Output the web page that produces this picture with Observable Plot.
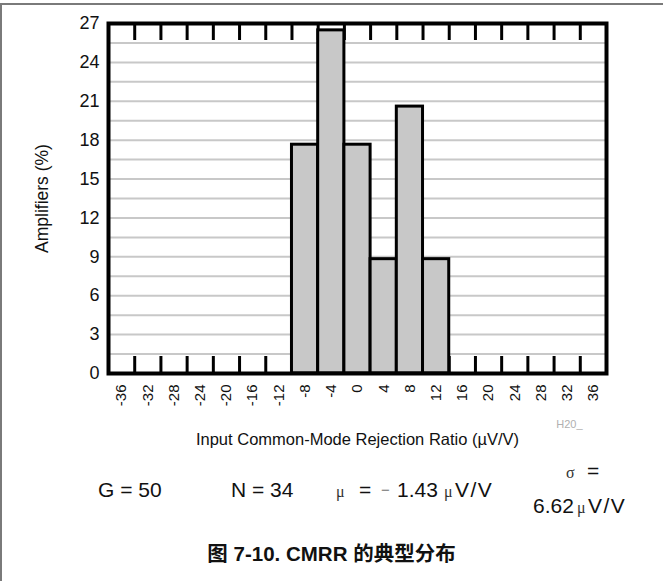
<!DOCTYPE html>
<html><head><meta charset="utf-8">
<script src="https://cdn.jsdelivr.net/npm/d3@7"></script>
<script src="https://cdn.jsdelivr.net/npm/@observablehq/plot@0.6"></script>
<style>
html,body{margin:0;padding:0;background:#fff;}
#wrap{position:relative;width:663px;height:581px;overflow:hidden;font-family:"Liberation Sans",Arial,sans-serif;color:#111;}
#chart{position:absolute;left:0;top:0;}
.bt{position:absolute;left:0;top:3px;width:663px;height:2px;background:#7a7a7a;}
.bl{position:absolute;left:0;top:3px;width:2px;height:578px;background:#7a7a7a;}
.s{position:absolute;font-size:21px;line-height:20px;white-space:nowrap;}
.mu{font-family:"Liberation Serif","Times New Roman",serif;font-size:16px;color:#333;}
.minus{font-size:15px;color:#777;}
.vv{letter-spacing:1.5px;}
#cap{position:absolute;left:0;width:663px;top:540px;line-height:24px;text-align:center;font-family:"Liberation Sans",sans-serif;font-weight:bold;font-size:20.5px;}
#cap span.cjk{font-family:"Noto Sans CJK SC",sans-serif;}
</style></head><body>
<div id="wrap">
<div id="chart"></div>
<div class="bt"></div><div class="bl"></div>
<div class="s" id="sG" style="left:98px;top:480px"></div>
<div class="s" id="sN" style="left:231px;top:480px"></div>
<div class="s mu" id="sMu1" style="left:336px;top:482px"></div>
<div class="s" style="left:359px;top:480px">=</div>
<div class="s minus" id="sMinus" style="left:381px;top:480px"></div>
<div class="s" id="sMean" style="left:397px;top:480px"></div>
<div class="s mu" id="sMu2" style="left:444px;top:482px"></div>
<div class="s vv" id="sUnit1" style="left:455px;top:480px"></div>
<div class="s mu" id="sSig" style="left:566px;top:463px"></div>
<div class="s" style="left:587px;top:461px">=</div>
<div class="s" id="sSigma" style="left:533px;top:496px"></div>
<div class="s mu" id="sMu3" style="left:577px;top:498px"></div>
<div class="s vv" id="sUnit2" style="left:588px;top:496px"></div>
<div id="cap"></div>
</div>
<script>
// ---- data ----
const binLabels = [-36,-32,-28,-24,-20,-16,-12,-8,-4,0,4,8,12,16,20,24,28,32,36];
const barCenters = [-8,-4,0,4,8,12];
const barPercents = [17.65,26.47,17.65,8.82,20.59,8.82];
const binWidth = 4;
const binEdges = [-34,-30,-26,-22,-18,-14,-10,-6,-2,2,6,10,14,18,22,26,30,34];
const yTicks = [0,3,6,9,12,15,18,21,24,27];
const gridValues = [1.5,3,4.5,6,7.5,9,10.5,12,13.5,15,16.5,18,19.5,21,22.5,24,25.5];
const yLabel = "Amplifiers (%)";
const xLabel = "Input Common-Mode Rejection Ratio (\u00b5V/V)";
const stamp = "H20_";
const gain = 50, count = 34, mean = "1.43", sigma = "6.62", unit = "V/V";
const captionPrefix = "图", captionNum = "7-10. CMRR", captionTail = "的典型分布";

const bars = barCenters.map((c, i) => ({x1: c - binWidth / 2, x2: c + binWidth / 2, y: barPercents[i]}));

const frameH = 460 - 23 - 87;
const plot = Plot.plot({
  width: 663,
  height: 460,
  marginLeft: 108,
  marginRight: 57,
  marginTop: 23,
  marginBottom: 87,
  style: {background: "transparent", fontFamily: "'Liberation Sans', Arial, sans-serif", fontSize: "15px", color: "#111"},
  x: {domain: [-38, 38], ticks: binLabels, tickFormat: d => String(d), tickRotate: -90, tickSize: 0, tickPadding: 11, label: null},
  y: {domain: [0, 27], ticks: yTicks, tickSize: 0, tickPadding: 9, label: null},
  marks: [
    Plot.ruleY(gridValues, {stroke: "#c8c8c8", strokeWidth: 2}),
    Plot.tickX(binEdges, {x: d => d, insetTop: frameH - 17, stroke: "#000", strokeWidth: 3}),
    Plot.tickX(binEdges, {x: d => d, insetBottom: frameH - 17, stroke: "#000", strokeWidth: 3}),
    Plot.rectY(bars, {x1: "x1", x2: "x2", y: "y", fill: "#c8c8c8", stroke: "#000", strokeWidth: 3}),
    Plot.frame({stroke: "#000", strokeWidth: 4}),
    Plot.axisY({ticks: yTicks, tickSize: 0, tickPadding: 9, fontSize: 18, label: null}),
    Plot.text([yLabel], {frameAnchor: "left", textAnchor: "middle", lineAnchor: "middle", dx: -66, rotate: -90, fontSize: 17.5, fill: "#111"}),
    Plot.text([xLabel], {frameAnchor: "bottom", textAnchor: "middle", lineAnchor: "middle", dy: 66, fontSize: 16.5, fill: "#111"}),
    Plot.text([stamp], {frameAnchor: "bottom-right", dx: -24, dy: 54, fontSize: 11, fill: "#b0b0b0", textAnchor: "end"})
  ]
});
document.getElementById("chart").appendChild(plot);

document.getElementById("sG").textContent = `G = ${gain}`;
document.getElementById("sN").textContent = `N = ${count}`;
document.getElementById("sMu1").textContent = "\u03bc";
document.getElementById("sMinus").textContent = "\u2212";
document.getElementById("sMean").textContent = mean;
document.getElementById("sMu2").textContent = "\u03bc";
document.getElementById("sUnit1").textContent = unit;
document.getElementById("sSig").textContent = "\u03c3";
document.getElementById("sSigma").textContent = sigma;
document.getElementById("sMu3").textContent = "\u03bc";
document.getElementById("sUnit2").textContent = unit;
document.getElementById("cap").innerHTML = `<span class="cjk">${captionPrefix}</span> ${captionNum} <span class="cjk">${captionTail}</span>`;
</script>
</body></html>
